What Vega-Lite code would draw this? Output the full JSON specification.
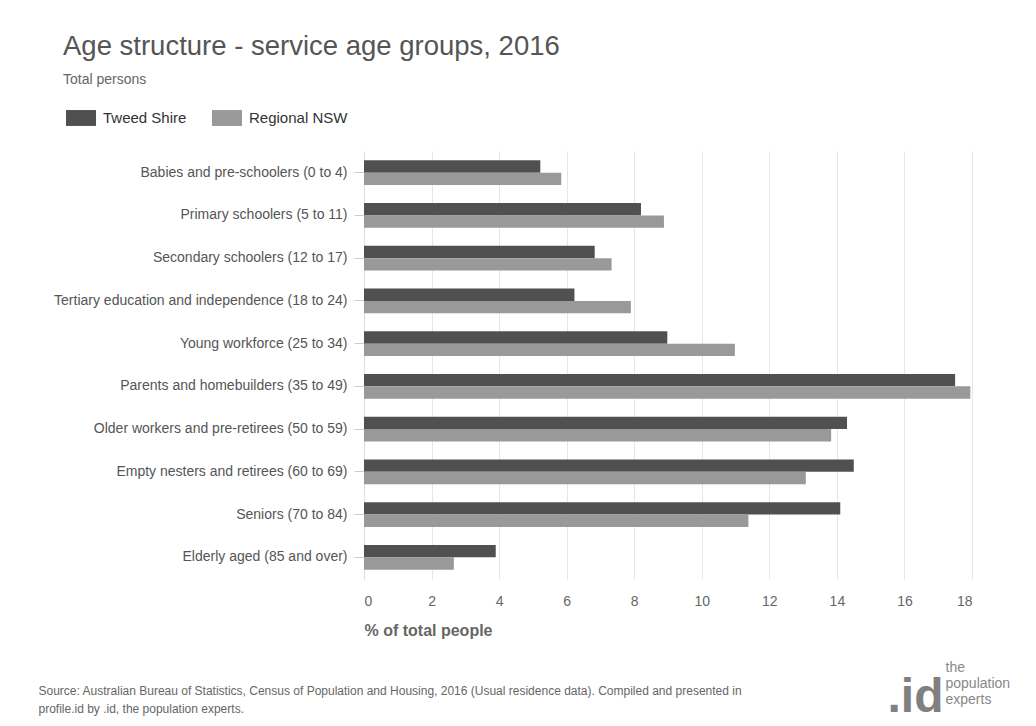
{
  "$schema": "https://vega.github.io/schema/vega-lite/v6.json",
  "autosize": {"type": "none"},
  "padding": {"left": 364, "top": 151, "right": 64, "bottom": 147},
  "width": 608,
  "height": 428,
  "background": "white",
  "title": {
    "text": "Age structure - service age groups, 2016",
    "subtitle": "Total persons",
    "anchor": "start",
    "frame": "group",
    "dx": -301,
    "font": "Liberation Sans",
    "fontSize": 27.5,
    "fontWeight": "normal",
    "color": "#555555",
    "subtitleFont": "Liberation Sans",
    "subtitleFontSize": 14,
    "subtitleColor": "#666666",
    "subtitlePadding": 13,
    "offset": 16
  },
  "data": {
    "values": [
      {"group": "Babies and pre-schoolers (0 to 4)", "series": "Tweed Shire", "value": 5.22},
      {"group": "Babies and pre-schoolers (0 to 4)", "series": "Regional NSW", "value": 5.84},
      {"group": "Primary schoolers (5 to 11)", "series": "Tweed Shire", "value": 8.2},
      {"group": "Primary schoolers (5 to 11)", "series": "Regional NSW", "value": 8.88},
      {"group": "Secondary schoolers (12 to 17)", "series": "Tweed Shire", "value": 6.83},
      {"group": "Secondary schoolers (12 to 17)", "series": "Regional NSW", "value": 7.33},
      {"group": "Tertiary education and independence (18 to 24)", "series": "Tweed Shire", "value": 6.23},
      {"group": "Tertiary education and independence (18 to 24)", "series": "Regional NSW", "value": 7.9},
      {"group": "Young workforce (25 to 34)", "series": "Tweed Shire", "value": 8.98},
      {"group": "Young workforce (25 to 34)", "series": "Regional NSW", "value": 10.98},
      {"group": "Parents and homebuilders (35 to 49)", "series": "Tweed Shire", "value": 17.5},
      {"group": "Parents and homebuilders (35 to 49)", "series": "Regional NSW", "value": 17.95},
      {"group": "Older workers and pre-retirees (50 to 59)", "series": "Tweed Shire", "value": 14.3},
      {"group": "Older workers and pre-retirees (50 to 59)", "series": "Regional NSW", "value": 13.83},
      {"group": "Empty nesters and retirees (60 to 69)", "series": "Tweed Shire", "value": 14.5},
      {"group": "Empty nesters and retirees (60 to 69)", "series": "Regional NSW", "value": 13.08},
      {"group": "Seniors (70 to 84)", "series": "Tweed Shire", "value": 14.1},
      {"group": "Seniors (70 to 84)", "series": "Regional NSW", "value": 11.38},
      {"group": "Elderly aged (85 and over)", "series": "Tweed Shire", "value": 3.9},
      {"group": "Elderly aged (85 and over)", "series": "Regional NSW", "value": 2.66}
    ]
  },
  "resolve": {"axis": {"x": "independent", "y": "independent"}},
  "layer": [
    {
      "mark": {"type": "bar", "cornerRadius": 0},
      "encoding": {
        "y": {
          "field": "group", "type": "nominal", "sort": null,
          "scale": {"paddingInner": 0.416, "paddingOuter": 0.214},
          "axis": {
            "title": null, "labelFont": "Liberation Sans", "labelFontSize": 14,
            "labelColor": "#555555", "tickSize": 10, "tickColor": "#cccccc",
            "domainColor": "#dddddd", "labelPadding": 7, "labelLimit": 400
          }
        },
        "yOffset": {"field": "series", "type": "nominal", "sort": ["Tweed Shire", "Regional NSW"]},
        "x": {
          "field": "value", "type": "quantitative",
          "scale": {"domain": [0, 18], "nice": false},
          "axis": {
            "values": [0, 2, 4, 6, 8, 10, 12, 14, 16, 18],
            "grid": true, "gridColor": "#e6e6e6", "domain": false, "ticks": false,
            "labelFont": "Liberation Sans", "labelFontSize": 14, "labelColor": "#666666",
            "labelPadding": 15,
            "title": "% of total people", "titleFont": "Liberation Sans",
            "titleFontSize": 16, "titleFontWeight": "bold", "titleColor": "#666666",
            "titleAlign": "left", "titleBaseline": "alphabetic", "titleX": 0, "titleY": 56
          }
        },
        "color": {
          "field": "series", "type": "nominal",
          "scale": {"domain": ["Tweed Shire", "Regional NSW"], "range": ["#505050", "#999999"]},
          "legend": {
            "title": null, "orient": "none", "legendX": -298, "legendY": -48,
            "direction": "horizontal", "padding": 0,
            "symbolType": "M-1,-0.53H1V0.53H-1Z", "symbolSize": 900,
            "symbolStrokeWidth": 0, "symbolOpacity": 1,
            "labelFont": "Liberation Sans", "labelFontSize": 15, "labelColor": "#333333",
            "columnPadding": 25, "labelOffset": 7
          }
        }
      }
    },
    {
      "mark": {"type": "bar", "opacity": 0},
      "encoding": {
        "y": {
          "field": "group", "type": "nominal", "sort": null,
          "axis": {
            "orient": "right", "labels": false, "ticks": false, "domain": false, "grid": false,
            "title": ".id", "titleAngle": 0, "titleAlign": "left", "titleBaseline": "alphabetic",
            "titleX": -85, "titleY": 560, "titleFont": "Liberation Sans",
            "titleFontSize": 48, "titleFontWeight": "bold", "titleColor": "#808080"
          }
        },
        "x": {
          "field": "value", "type": "quantitative",
          "axis": {
            "orient": "bottom", "labels": false, "ticks": false, "domain": false, "grid": false,
            "title": ["Source: Australian Bureau of Statistics, Census of Population and Housing, 2016 (Usual residence data). Compiled and presented in", "profile.id by .id, the population experts."],
            "titleAlign": "left", "titleBaseline": "alphabetic", "titleX": -326, "titleY": 115,
            "titleFont": "Liberation Sans", "titleFontSize": 12, "titleFontWeight": "normal",
            "titleColor": "#666666", "titleLineHeight": 18
          }
        }
      }
    },
    {
      "mark": {"type": "bar", "opacity": 0},
      "encoding": {
        "y": {
          "field": "group", "type": "nominal", "sort": null,
          "axis": {
            "orient": "right", "labels": false, "ticks": false, "domain": false, "grid": false,
            "title": ["the", "population", "experts"], "titleAngle": 0, "titleAlign": "left",
            "titleBaseline": "alphabetic", "titleX": -27, "titleY": 520,
            "titleFont": "Liberation Sans", "titleFontSize": 14, "titleFontWeight": "normal",
            "titleColor": "#888888", "titleLineHeight": 16
          }
        },
        "x": {"field": "value", "type": "quantitative", "axis": null}
      }
    }
  ],
  "config": {"view": {"stroke": null}}
}
